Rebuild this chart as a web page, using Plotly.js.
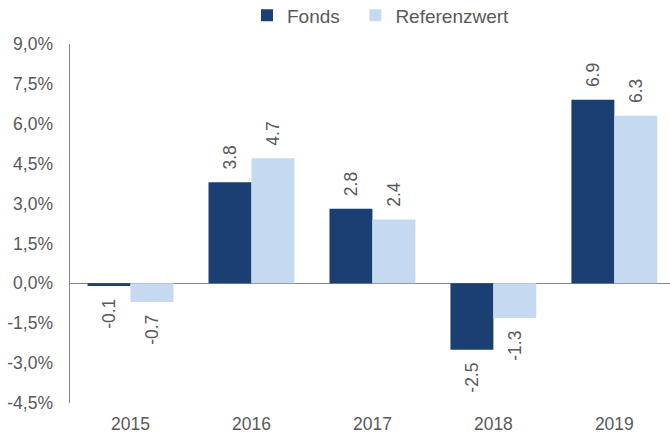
<!DOCTYPE html>
<html>
<head>
<meta charset="utf-8">
<script src="https://cdn.plot.ly/plotly-3.0.1.min.js"></script>
<style>html,body{margin:0;padding:0;background:#fff;}#chart{width:670px;height:432px;}</style>
</head>
<body>
<div id="chart"></div>
<script>
const years = ['2015', '2016', '2017', '2018', '2019'];
const fonds = [-0.1, 3.8, 2.8, -2.5, 6.9];
const referenz = [-0.7, 4.7, 2.4, -1.3, 6.3];
const yTickVals = [-4.5, -3.0, -1.5, 0, 1.5, 3.0, 4.5, 6.0, 7.5, 9.0];
const yTickText = ['-4,5%', '-3,0%', '-1,5%', '0,0%', '1,5%', '3,0%', '4,5%', '6,0%', '7,5%', '9,0%'];

// padding with non-breaking spaces to keep labels a little away from the bar ends
const NB = '\u00a0\u00a0';
const lbl = v => v >= 0 ? NB + v.toFixed(1) : v.toFixed(1) + NB;

const txtFont = {family: 'Liberation Sans, Arial, sans-serif', size: 17.5, color: '#595959'};
const traces = [
  {type: 'bar', name: 'Fonds' + NB, x: years, y: fonds, marker: {color: '#1b3f73'},
   text: fonds.map(lbl), textposition: 'outside', textangle: -90,
   constraintext: 'none', cliponaxis: false, outsidetextfont: txtFont, hoverinfo: 'none'},
  {type: 'bar', name: 'Referenzwert', x: years, y: referenz, marker: {color: '#c5d9f1'},
   text: referenz.map(lbl), textposition: 'outside', textangle: -90,
   constraintext: 'none', cliponaxis: false, outsidetextfont: txtFont, hoverinfo: 'none'}
];
const layout = {
  width: 670, height: 432,
  margin: {l: 70, r: 0, t: 44, b: 29, pad: 0, autoexpand: false},
  paper_bgcolor: '#ffffff', plot_bgcolor: '#ffffff',
  font: {family: 'Liberation Sans, Arial, sans-serif', size: 17.5, color: '#595959'},
  barmode: 'group', bargap: 0.29, bargroupgap: 0,
  showlegend: true,
  legend: {orientation: 'h', x: 0.295, xanchor: 'left', y: 1.08, yanchor: 'middle',
           font: {size: 19, color: '#595959'}, itemwidth: 30,
           traceorder: 'normal'},
  xaxis: {type: 'category', range: [-0.5, 4.46], showgrid: false, zeroline: false,
          showline: false, ticks: '', ticklabelstandoff: 8, automargin: false,
          tickfont: {size: 17.5, color: '#595959'}, fixedrange: true},
  yaxis: {range: [-4.5, 9.0], tickvals: yTickVals, ticktext: yTickText, showgrid: false,
          zeroline: true, zerolinecolor: '#868686', zerolinewidth: 1.5, automargin: false,
          showline: true, linecolor: '#868686', linewidth: 1.5, ticks: '',
          ticklabelstandoff: 12, tickfont: {size: 17.5, color: '#595959'}, fixedrange: true}
};
Plotly.newPlot('chart', traces, layout, {displayModeBar: false, staticPlot: true});
</script>
</body>
</html>
